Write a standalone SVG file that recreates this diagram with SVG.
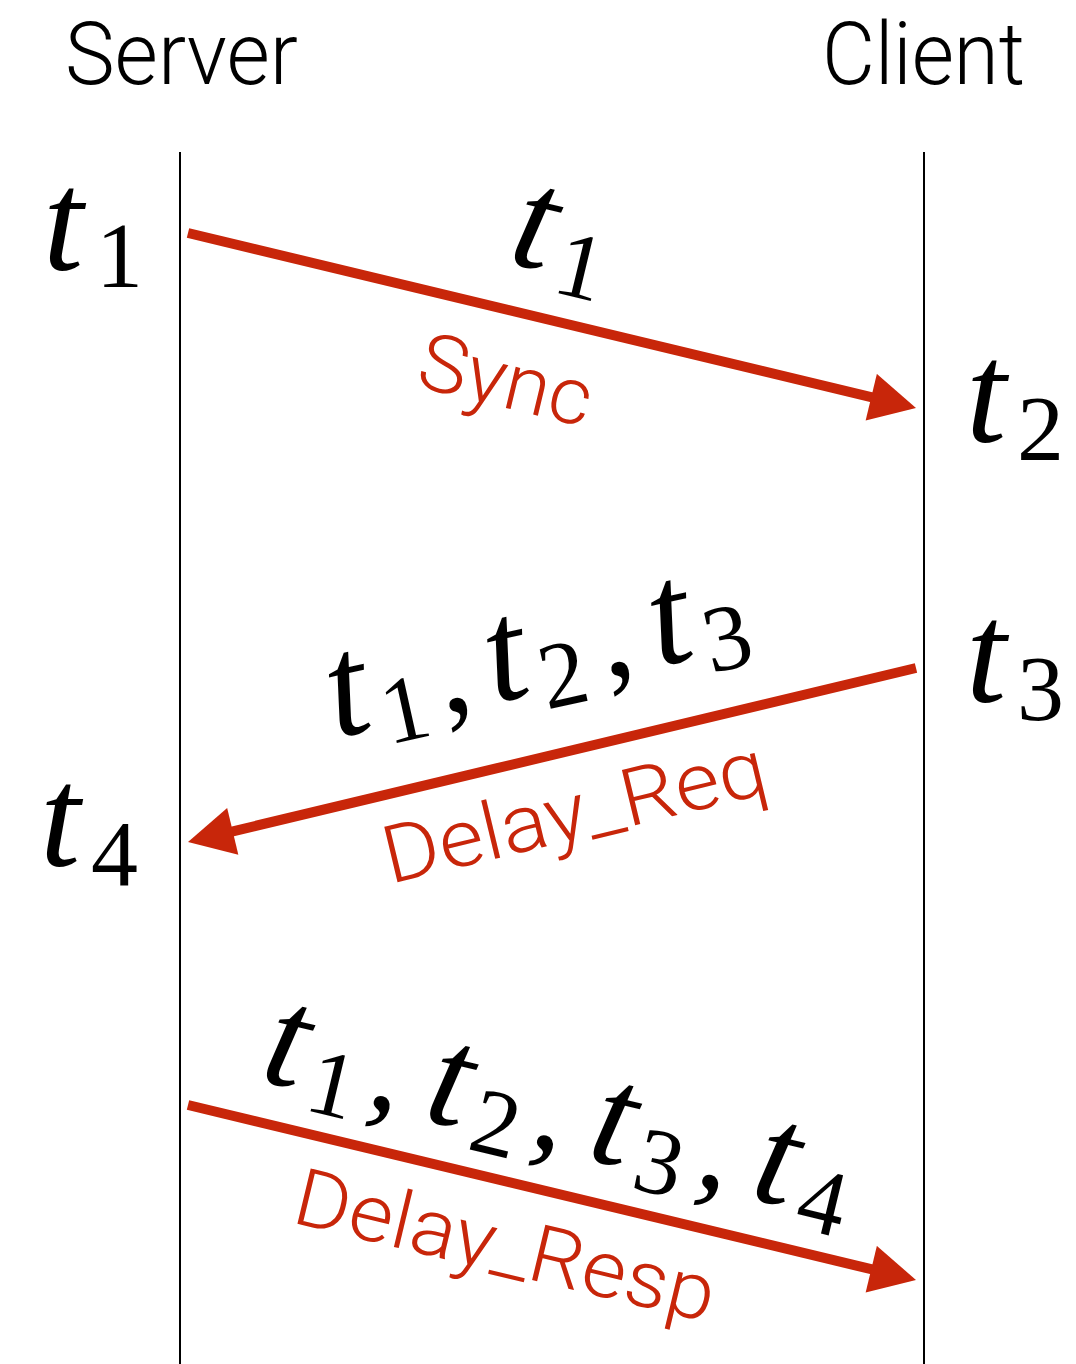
<svg xmlns="http://www.w3.org/2000/svg" width="1076" height="1364" viewBox="0 0 1076 1364">
<style>
.hdr{font-family:Roboto,"Liberation Sans",Arial,sans-serif;font-weight:300;font-size:88px;fill:#000}
.lbl{font-family:Roboto,"Liberation Sans",Arial,sans-serif;font-weight:300;font-size:80px;fill:#c8260a}
.mt{font-family:"Liberation Serif","Times New Roman",serif;font-style:italic;font-size:145px;fill:#000}
.ms{font-family:"Liberation Serif","Times New Roman",serif;font-size:94px;fill:#000}
.mc{font-family:"Liberation Serif","Times New Roman",serif;font-size:130px;fill:#000}
.life{stroke:#000;stroke-width:2;fill:none}
.msg{stroke:#c8260a;stroke-width:10;fill:none;marker-end:url(#ah)}
</style>
<defs>
<marker id="ah" markerUnits="userSpaceOnUse" markerWidth="48" markerHeight="48" viewBox="0 0 46 48" refX="2" refY="24" orient="auto">
<path d="M0,0 L46,24 L0,48 z" fill="#c8260a"/>
</marker>
</defs>
<rect width="1076" height="1364" fill="#fff"/>
<g id="server">
<text class="hdr" x="65" y="84" textLength="233" lengthAdjust="spacingAndGlyphs">Server</text>
<line class="life" x1="180" y1="152" x2="180" y2="1364"/>
</g>
<g id="client">
<text class="hdr" x="822" y="84" textLength="203" lengthAdjust="spacingAndGlyphs">Client</text>
<line class="life" x1="924" y1="152" x2="924" y2="1364"/>
</g>
<g id="time-labels">
<text class="mt" x="43" y="270">t</text><text class="ms" x="96" y="287">1</text>
<text class="mt" x="966" y="442">t</text><text class="ms" x="1017" y="460">2</text>
<text class="mt" x="966" y="702">t</text><text class="ms" x="1017" y="720">3</text>
<text class="mt" x="40" y="866">t</text><text class="ms" x="91" y="885">4</text>
</g>
<g id="connectors">
<line class="msg" x1="188" y1="233" x2="873.2" y2="397.7"/>
<line class="msg" x1="916" y1="668" x2="230.8" y2="831.8"/>
<line class="msg" x1="188" y1="1105" x2="873.2" y2="1269.7"/>
</g>
<g id="sync-labels">
<g transform="translate(506,262) rotate(13.5)">
<text class="mt" x="0" y="0">t</text><text class="ms" x="50" y="18">1</text>
</g>
<text class="lbl" transform="translate(414,386) rotate(13.5)" textLength="176" lengthAdjust="spacingAndGlyphs">Sync</text>
</g>
<g id="delayreq-labels">
<g transform="translate(336,738) rotate(-12.5)">
<text class="mt" x="0" y="0">t</text><text class="ms" x="50" y="18">1</text><text class="mc" x="110" y="0">,</text>
<text class="mt" x="162" y="0">t</text><text class="ms" x="212" y="18">2</text><text class="mc" x="276" y="0">,</text>
<text class="mt" x="330" y="0">t</text><text class="ms" x="380" y="18">3</text>
</g>
<text class="lbl" transform="translate(390,884) rotate(-13.5)" textLength="392" lengthAdjust="spacingAndGlyphs">Delay_Req</text>
</g>
<g id="delayresp-labels">
<g transform="translate(258,1080) rotate(13.5)">
<text class="mt" x="0" y="0">t</text><text class="ms" x="50" y="18">1</text><text class="mc" x="110" y="0">,</text>
<text class="mt" x="168" y="0">t</text><text class="ms" x="218" y="18">2</text><text class="mc" x="278" y="0">,</text>
<text class="mt" x="336" y="0">t</text><text class="ms" x="386" y="18">3</text><text class="mc" x="448" y="0">,</text>
<text class="mt" x="504" y="0">t</text><text class="ms" x="554" y="18">4</text>
</g>
<text class="lbl" transform="translate(290,1222) rotate(13.5)" textLength="430" lengthAdjust="spacingAndGlyphs">Delay_Resp</text>
</g>
</svg>
